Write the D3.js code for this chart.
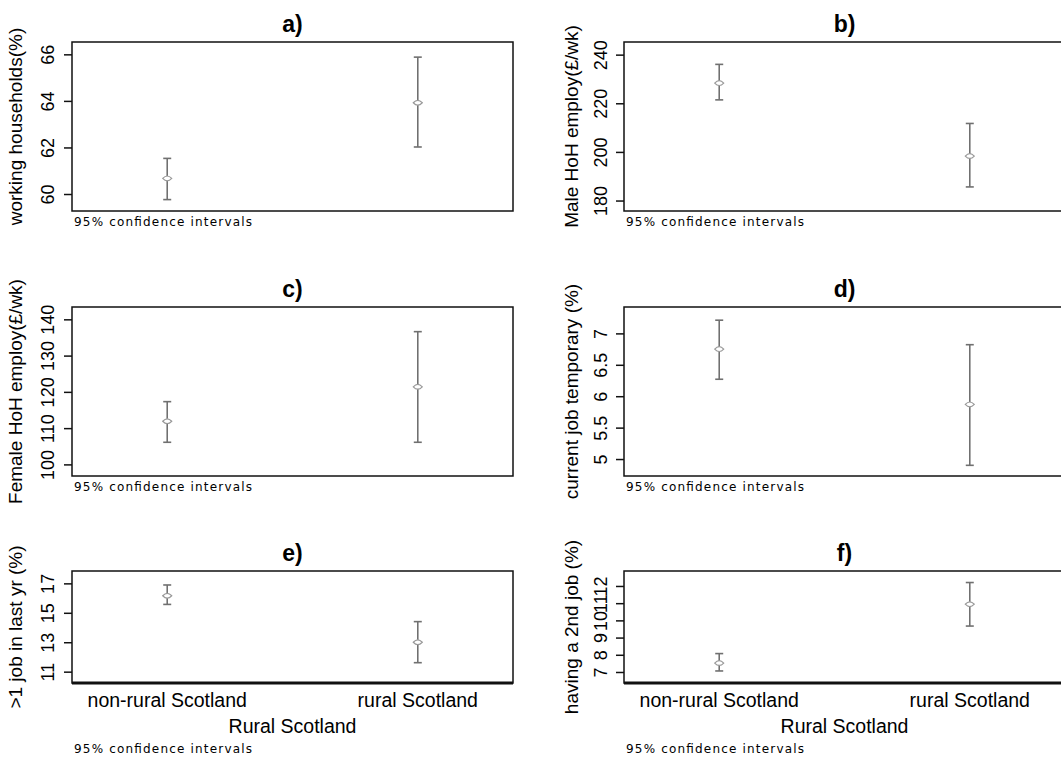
<!DOCTYPE html>
<html><head><meta charset="utf-8">
<script src="https://cdn.jsdelivr.net/npm/d3@7"></script>
<style>body{margin:0;background:#fff}svg{display:block}</style>
</head><body>
<svg id="chart" width="1061" height="757"></svg>
<script>
// ---- data ----
const categories = ["non-rural Scotland", "rural Scotland"];
const xTitle = "Rural Scotland";
const noteText = "95% confidence intervals";
const panelIds = ["a)", "b)", "c)", "d)", "e)", "f)"];
const yTitles = ["working households(%)", "Male HoH employ(\u00a3/wk)", "Female HoH employ(\u00a3/wk)",
                 "current job temporary (%)", ">1 job in last yr (%)", "having a 2nd job (%)"];

const meanA = [60.67, 63.92], lowA = [59.76, 62.02], highA = [61.53, 65.88];
const meanB = [228.3, 198.3], lowB = [221.4, 185.6], highB = [236.0, 211.7];
const meanC = [111.9, 121.4], lowC = [106.1, 106.1], highC = [117.3, 136.6];
const meanD = [6.75, 5.87],   lowD = [6.27, 4.90],   highD = [7.21, 6.82];
const meanE = [16.16, 13.0],  lowE = [15.57, 11.61], highE = [16.89, 14.4];
const meanF = [7.52, 10.94],  lowF = [7.06, 9.67],   highF = [8.07, 12.2];

const ticksA = [60, 62, 64, 66];
const ticksB = [180, 200, 220, 240];
const ticksC = [100, 110, 120, 130, 140];
const ticksD = [5, 5.5, 6, 6.5, 7];
const ticksE = [11, 13, 15, 17];
const ticksF = [7, 8, 9, 10, 11, 12];

const domainA = [59.27, 66.53];
const domainB = [175.7, 245.2];
const domainC = [96.8, 143.4];
const domainD = [4.73, 7.42];
const domainE = [10.23, 17.84];
const domainF = [6.36, 12.87];

const means = [meanA, meanB, meanC, meanD, meanE, meanF];
const lows = [lowA, lowB, lowC, lowD, lowE, lowF];
const highs = [highA, highB, highC, highD, highE, highF];
const tickSets = [ticksA, ticksB, ticksC, ticksD, ticksE, ticksF];
const domains = [domainA, domainB, domainC, domainD, domainE, domainF];

// ---- layout ----
const colLeft = [72, 624];
const boxW = 441;
const rowTop = [42, 307, 571];
const rowBottom = [211, 476, 683];
const tickLabelOff = [-18, -17];
const yTitleX = [22, 578];
const font = "'Liberation Sans', Arial, Helvetica, sans-serif";

const svg = d3.select("#chart");
svg.append("rect").attr("width", 1061).attr("height", 757).attr("fill", "#fff");

panelIds.forEach((pid, i) => {
  const col = i % 2, row = Math.floor(i / 2);
  const left = colLeft[col], right = left + boxW;
  const top = rowTop[row], bottom = rowBottom[row];
  const isBottom = row === 2;

  const y = d3.scaleLinear().domain(domains[i]).range([bottom, top]);
  const x = d3.scalePoint().domain(categories).range([left, right]).padding(0.38);

  const g = svg.append("g");

  // frame
  g.append("rect").attr("x", left).attr("y", top).attr("width", boxW).attr("height", bottom - top)
    .attr("fill", "none").attr("stroke", "#111").attr("stroke-width", 1.5);
  if (isBottom) {
    g.append("line").attr("x1", left).attr("x2", right).attr("y1", bottom).attr("y2", bottom)
      .attr("stroke", "#111").attr("stroke-width", 2.8);
  }

  // y axis
  const ax = g.append("g").attr("transform", `translate(${left},0)`)
    .call(d3.axisLeft(y).tickValues(tickSets[i]).tickSize(8).tickSizeOuter(0).tickFormat(d3.format("")));
  ax.select(".domain").remove();
  ax.selectAll(".tick line").attr("stroke", "#111").attr("stroke-width", 1.5);
  ax.selectAll(".tick text")
    .attr("x", null).attr("dy", null).attr("y", null)
    .attr("transform", `translate(${tickLabelOff[col]},0) rotate(-90)`)
    .attr("text-anchor", "middle")
    .attr("fill", "#000")
    .style("font-family", font).style("font-size", "18px");

  // error bars
  const cap = 4;
  categories.forEach((c, k) => {
    const cx = x(c);
    g.append("line").attr("x1", cx).attr("x2", cx).attr("y1", y(lows[i][k])).attr("y2", y(highs[i][k]))
      .attr("stroke", "#707070").attr("stroke-width", 1.6);
    [lows[i][k], highs[i][k]].forEach(v => {
      g.append("line").attr("x1", cx - cap).attr("x2", cx + cap).attr("y1", y(v)).attr("y2", y(v))
        .attr("stroke", "#707070").attr("stroke-width", 1.6);
    });
    g.append("path")
      .attr("d", "M-4.5,0 Q0,-4.8 4.5,0 Q0,4.8 -4.5,0 Z")
      .attr("transform", `translate(${cx},${y(means[i][k])})`)
      .attr("fill", "#fff").attr("stroke", "#999").attr("stroke-width", 1.2);
  });

  // panel title
  g.append("text").attr("x", (left + right) / 2).attr("y", top - 10)
    .attr("text-anchor", "middle").style("font-family", font).style("font-size", "23px")
    .style("font-weight", "bold").text(pid);

  // y title
  g.append("text").attr("transform", `translate(${yTitleX[col]},${(top + bottom) / 2}) rotate(-90)`)
    .attr("text-anchor", "middle").style("font-family", font).style("font-size", "19px")
    .text(yTitles[i]);

  // x labels + note
  let noteY = bottom + 15;
  if (isBottom) {
    categories.forEach(c => {
      g.append("text").attr("x", x(c)).attr("y", bottom + 24).attr("text-anchor", "middle")
        .style("font-family", font).style("font-size", "19.5px").text(c);
    });
    g.append("text").attr("x", (left + right) / 2).attr("y", bottom + 50).attr("text-anchor", "middle")
      .style("font-family", font).style("font-size", "19.5px").text(xTitle);
    noteY = bottom + 70;
  }
  g.append("text").attr("x", left + 2).attr("y", noteY)
    .attr("textLength", 178).attr("lengthAdjust", "spacing")
    .style("font-family", "'DejaVu Sans', Verdana, sans-serif").style("font-size", "12px")
    .attr("fill", "#000")
    .text(noteText);
});
</script>
</body></html>
